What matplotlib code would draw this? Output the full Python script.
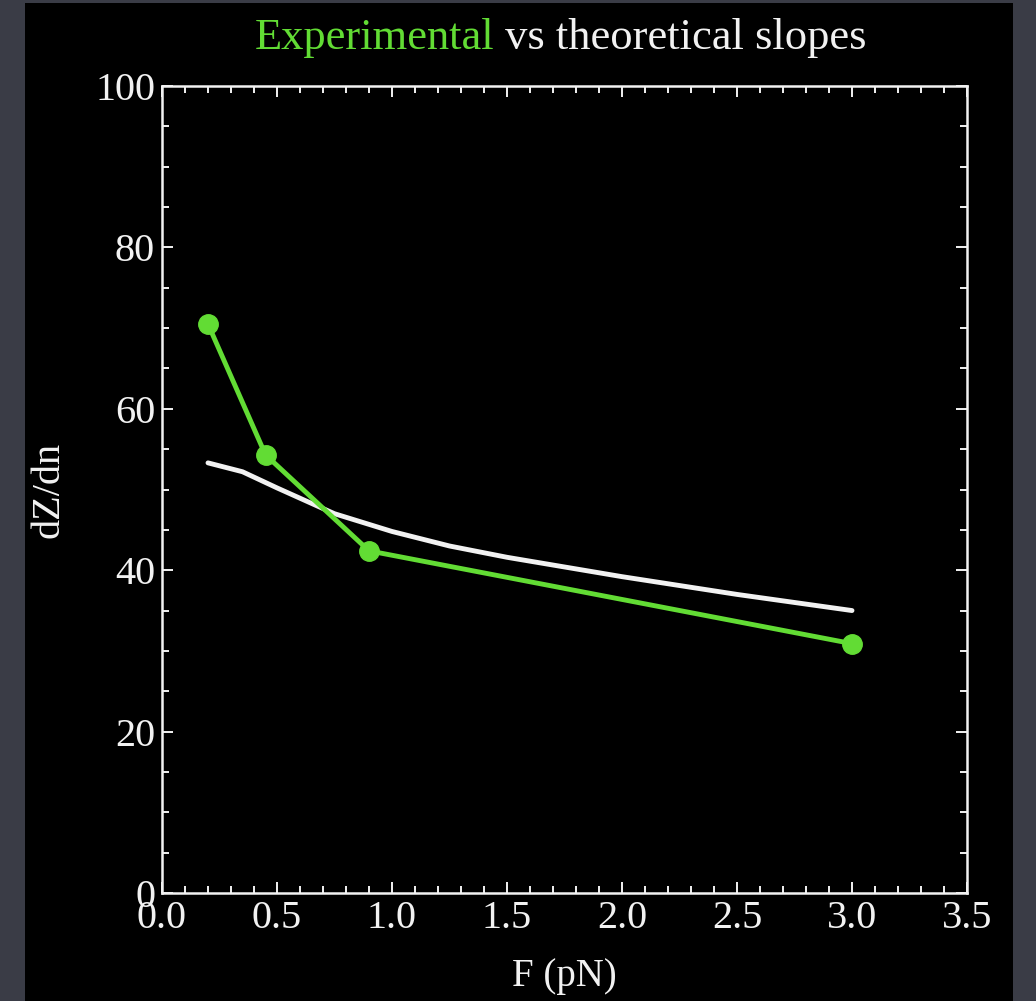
import matplotlib
matplotlib.use("Agg")
import matplotlib.pyplot as plt
from matplotlib.patches import Rectangle
from matplotlib.ticker import MultipleLocator

# données
F_exp = [0.2, 0.45, 0.9, 3.0]
pente_exp = [70.5, 54.3, 42.4, 30.9]

F_theo = [0.2, 0.35, 0.5, 0.75, 1.0, 1.25, 1.5, 1.75, 2.0, 2.25, 2.5, 2.75, 3.0]
pente_theo = [53.3, 52.2, 50.2, 47.0, 44.8, 43.0, 41.6, 40.4, 39.2, 38.1, 37.0, 36.0, 35.0]

vert = "#62dc34"
blanc = "#f2f2f2"
plt.rcParams["font.family"] = ["Liberation Serif", "DejaVu Serif"]

fig = plt.figure(figsize=(10.36, 10.01), dpi=100)
fig.patch.set_facecolor("#3a3c46")
# fond noir de la diapo
fig.add_artist(Rectangle((25 / 1036, 0), (1013 - 25) / 1036, 998 / 1001,
                         transform=fig.transFigure, facecolor="black", edgecolor="none", zorder=0))

ax = fig.add_axes([162 / 1036, 108 / 1001, 805 / 1036, 807 / 1001])
ax.set_facecolor("black")

ax.plot(F_theo, pente_theo, color=blanc, lw=3.5, solid_capstyle="round", zorder=3)
ax.plot(F_exp, pente_exp, color=vert, lw=3.5, marker="o", ms=14, zorder=4)

ax.set_xlim(0, 3.5)
ax.set_ylim(0, 100)
ax.xaxis.set_major_locator(MultipleLocator(0.5))
ax.xaxis.set_minor_locator(MultipleLocator(0.1))
ax.yaxis.set_major_locator(MultipleLocator(20))
ax.yaxis.set_minor_locator(MultipleLocator(5))
ax.xaxis.set_major_formatter(lambda v, p: f"{v:.1f}")

for s in ax.spines.values():
    s.set_color(blanc)
    s.set_linewidth(1.8)
ax.tick_params(which="both", direction="in", top=True, right=True, colors=blanc, width=1.4,
               labelsize=29, labelcolor=blanc)
ax.tick_params(which="major", length=8, pad=5)
ax.tick_params(which="minor", length=5)

ax.set_xlabel("F (pN)", color=blanc, fontsize=28)
ax.set_ylabel("dZ/dn", color=blanc, fontsize=29)
ax.xaxis.set_label_coords(0.5, -0.08)
ax.yaxis.set_label_coords(-0.118, 0.5)

# titre en deux couleurs
t1 = fig.text(0.246, 0.942, "Experimental", color=vert, fontsize=32, ha="left", va="bottom")
ax.annotate(" vs theoretical slopes", xy=(1, 0), xycoords=t1, color=blanc, fontsize=32,
            ha="left", va="bottom")

fig.savefig("out.png", dpi=100, facecolor=fig.get_facecolor())
